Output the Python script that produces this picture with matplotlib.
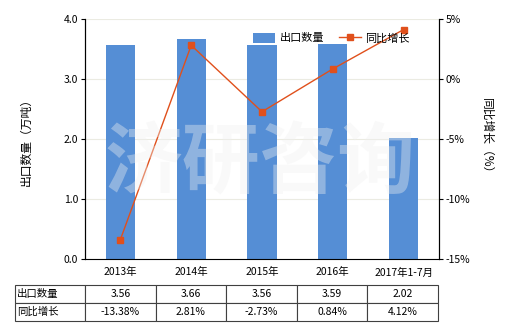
import numpy as np
import matplotlib
matplotlib.use('Agg')
import matplotlib.pyplot as plt

plt.rcParams['font.family'] = ['Noto Sans CJK SC', 'DejaVu Sans']

categories = ['2013年', '2014年', '2015年', '2016年', '2017年1-7月']
export_qty = [3.56, 3.66, 3.56, 3.59, 2.02]
yoy_growth = [-13.38, 2.81, -2.73, 0.84, 4.12]
qty_labels = ['3.56', '3.66', '3.56', '3.59', '2.02']
growth_labels = ['-13.38%', '2.81%', '-2.73%', '0.84%', '4.12%']

bar_color = '#558ED5'
line_color = '#E0501C'
fs = 7.5

fig = plt.figure(figsize=(5.2, 3.3), dpi=100)
ax = fig.add_axes([85 / 520, 1 - 259 / 330, 354 / 520, 240 / 330])
ax2 = ax.twinx()

index = np.arange(len(categories))
ax.bar(index, export_qty, 0.41, color=bar_color, label='出口数量', zorder=2)
ax.set_xlim(-0.5, len(categories) - 0.5)
ax.set_ylim(0, 4.0)
ax.set_yticks([0, 1, 2, 3, 4])
ax.set_yticklabels(['0.0', '1.0', '2.0', '3.0', '4.0'], fontsize=fs)
ax.grid(axis='y', color='#ebebe2', linewidth=0.8, zorder=0)
ax.set_xticks(index)
ax.set_xticklabels(categories, fontsize=fs)
ax.tick_params(axis='x', length=0, pad=6)
ax.tick_params(axis='y', length=3, pad=2)
ax.set_ylabel('出口数量（万吨）', fontsize=8.5, labelpad=22)

ax2.plot(index, yoy_growth, color=line_color, linewidth=1, marker='s',
         markersize=4, label='同比增长', zorder=3)
ax2.set_ylim(-15, 5)
ax2.set_yticks([-15, -10, -5, 0, 5])
ax2.set_yticklabels(['-15%', '-10%', '-5%', '0%', '5%'], fontsize=fs)
ax2.tick_params(axis='y', length=3, pad=2)
ax2.set_ylabel('同比增长（%）', fontsize=8.5, rotation=-90, labelpad=16)

for a in (ax, ax2):
    a.spines['top'].set_visible(False)
ax2.spines['bottom'].set_visible(False)

h1, l1 = ax.get_legend_handles_labels()
h2, l2 = ax2.get_legend_handles_labels()
ax2.legend(h1 + h2, l1 + l2, loc='upper left', bbox_to_anchor=(0.462, 0.962),
           borderaxespad=0, ncol=2, frameon=False, fontsize=fs + 0.5,
           handlelength=2.0, handleheight=1.0, columnspacing=1.3,
           handletextpad=0.4)

# watermark
fig.text(0.5, 0.5, '济研咨询', fontsize=56, color='#f0f0f0', alpha=0.38,
         ha='center', va='center', fontweight='bold', zorder=10)

# data table
table = ax.table(cellText=[['出口数量'] + qty_labels, ['同比增长'] + growth_labels],
                 cellLoc='center', colWidths=[70 / 423] + [70.6 / 423] * 5,
                 bbox=[-70 / 354, -62 / 240, 423 / 354, 36 / 240])
table.auto_set_font_size(False)
table.set_fontsize(fs)
for (r, c), cell in table.get_celld().items():
    cell.set_edgecolor('#404040')
    cell.set_linewidth(0.8)
    if c == 0:
        cell.set_text_props(ha='left')
        cell.PAD = 0.03

fig.savefig('out.png', dpi=100)
